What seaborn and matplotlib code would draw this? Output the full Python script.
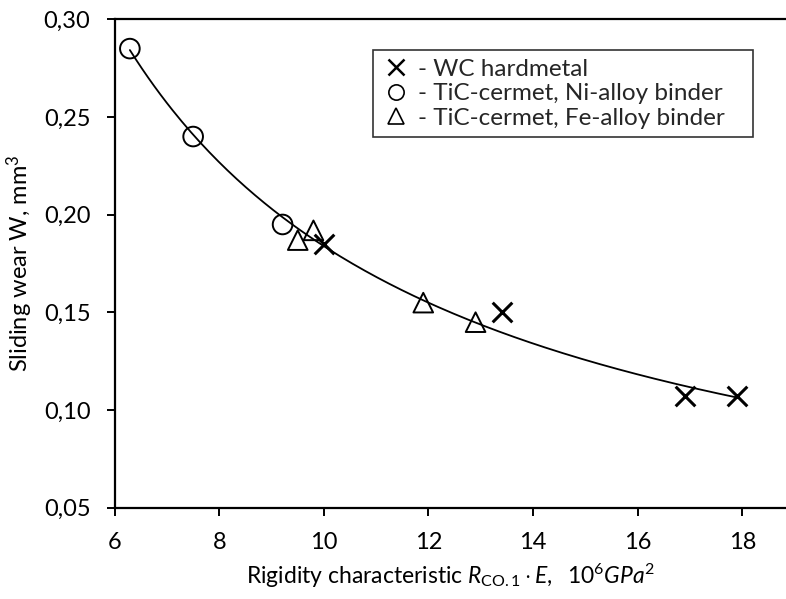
import matplotlib
matplotlib.use("Agg")
import matplotlib.pyplot as plt
from matplotlib.lines import Line2D
from matplotlib.ticker import FuncFormatter, MultipleLocator
import numpy as np
import seaborn as sns

# data
wc_x = [10.0, 13.4, 16.9, 17.9]
wc_y = [0.185, 0.150, 0.107, 0.107]

ni_x = [6.29, 7.50, 9.21]
ni_y = [0.285, 0.240, 0.195]

fe_x = [9.50, 9.80, 11.9, 12.9]
fe_y = [0.187, 0.192, 0.155, 0.145]

labels = ["- WC hardmetal", "- TiC-cermet, Ni-alloy binder", "- TiC-cermet, Fe-alloy binder"]

sns.set_theme(style="white")
plt.rcParams["font.family"] = ["Lato", "DejaVu Sans"]
plt.rcParams["mathtext.fontset"] = "custom"
plt.rcParams["mathtext.rm"] = "Lato"
plt.rcParams["mathtext.it"] = "Lato:italic"

FS = 17
LEG_FS = 17.5
W, H = 786, 599
fig = plt.figure(figsize=(W / 100, H / 100), dpi=100)
ax = fig.add_axes([114.7 / W, (H - 507.8) / H, 1 - 114.7 / W, 488.5 / H])

# power trend line fitted to all points (like the spreadsheet trendline)
all_x = np.array(wc_x + ni_x + fe_x)
all_y = np.array(wc_y + ni_y + fe_y)
b, log_a = np.polyfit(np.log(all_x), np.log(all_y), 1)
fit_x = np.linspace(all_x.min(), all_x.max(), 200)
fit_y = np.exp(log_a) * fit_x ** b
sns.lineplot(x=fit_x, y=fit_y, color="black", lw=1.3, ax=ax, zorder=2)

ms = 200
sns.scatterplot(x=ni_x, y=ni_y, marker="o", s=ms, facecolors="none",
                edgecolor="black", linewidth=1.4, ax=ax, zorder=3)
sns.scatterplot(x=fe_x, y=fe_y, marker="^", s=ms, facecolors="none",
                edgecolor="black", linewidth=1.4, ax=ax, zorder=3)
ax.scatter(wc_x, wc_y, marker="x", s=ms, color="black", linewidth=2.2, zorder=4)

ax.set_xlim(6, 6 + (W - 114.7) / 52.3)
ax.set_ylim(0.05, 0.30)
ax.xaxis.set_major_locator(MultipleLocator(2))
ax.yaxis.set_major_locator(MultipleLocator(0.05))
ax.xaxis.set_major_formatter(FuncFormatter(lambda v, p: f"{v:.0f}"))
ax.yaxis.set_major_formatter(FuncFormatter(lambda v, p: f"{v:.2f}".replace(".", ",")))

for side in ["left", "bottom", "top"]:
    ax.spines[side].set_color("black")
    ax.spines[side].set_linewidth(1.6)
ax.spines["right"].set_visible(False)
ax.tick_params(axis="both", which="major", direction="out", length=5.5, width=1.4,
               color="black", labelsize=FS, labelcolor="black")
ax.tick_params(axis="x", bottom=True, top=False, pad=12)
ax.tick_params(axis="y", left=True, right=False, pad=12)

ax.set_xlabel(r"Rigidity characteristic $\mathit{R}_{\mathrm{CO.1}}\cdot\mathit{E},\ \ \mathit{10^{6}GPa^{2}}$",
              fontsize=16.5, color="black", labelpad=6)
ax.set_ylabel(r"Sliding wear W, mm$^{3}$", fontsize=FS, color="black", labelpad=6)

handles = [
    Line2D([], [], marker="x", ls="none", color="black", ms=11, mew=1.8),
    Line2D([], [], marker="o", ls="none", mfc="none", mec="black", ms=11, mew=1.2),
    Line2D([], [], marker="^", ls="none", mfc="none", mec="black", ms=11, mew=1.2),
]
x0 = (373 - 114.7) / 671.3
wl = (753 - 373) / 671.3
y_top = 1 - (50 - 19.3) / 488.5
y_bot = 1 - (140 - 19.3) / 488.5
leg = ax.legend(handles, labels, loc="upper left", mode="expand",
                bbox_to_anchor=(x0, y_bot, wl, y_top - y_bot),
                fontsize=LEG_FS, frameon=True, fancybox=False, edgecolor="black",
                handlelength=1.2, handletextpad=0.3, borderpad=0.35, labelspacing=0.15,
                borderaxespad=0)
leg.get_frame().set_linewidth(1.2)

fig.savefig("out.png", dpi=100)
